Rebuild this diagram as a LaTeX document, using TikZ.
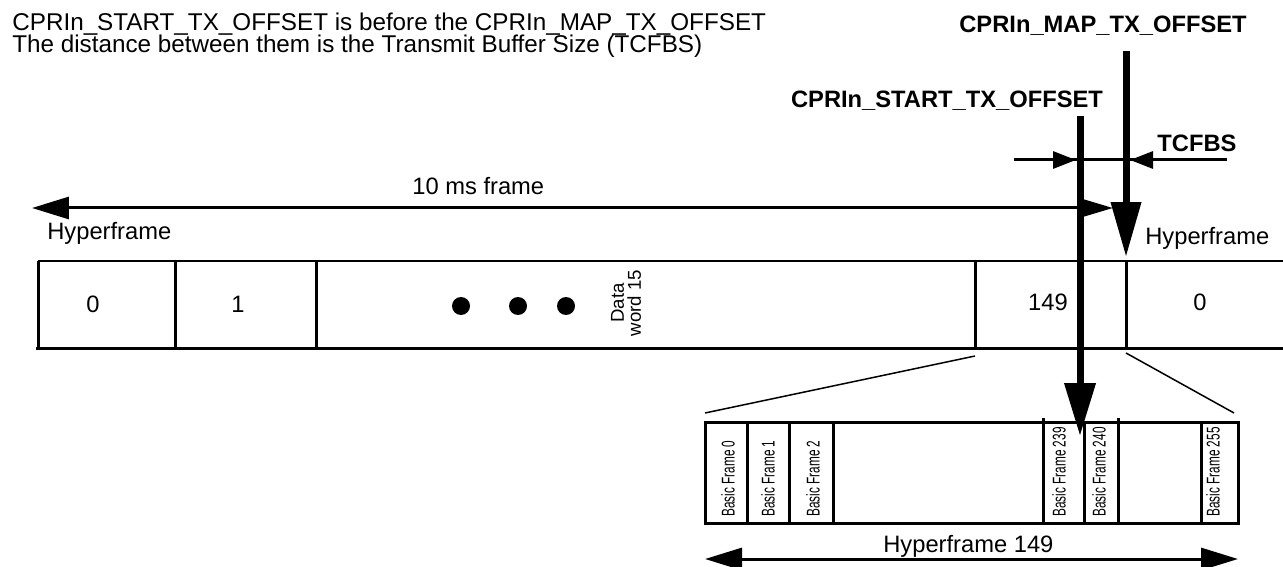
\documentclass[tikz,border=0pt]{standalone}
\usepackage{fontspec}
\setmainfont{Liberation Sans}
\newfontfamily\narrowfont[FakeStretch=0.64]{Liberation Sans}
\usepackage{tikz}
\usetikzlibrary{arrows.meta}
\tikzset{
  rowline/.style={line width=0.06cm},
  zoomline/.style={line width=0.03cm},
  offsetline/.style={line width=0.14cm},
  lbl/.style={inner sep=0pt, font=\fontsize{13.5}{16}\selectfont},
  notelbl/.style={inner sep=0pt, anchor=base west, font=\fontsize{13.8}{16}\selectfont},
  boldlbl/.style={inner sep=0pt, font=\fontsize{13.5}{16}\selectfont\bfseries},
  bflbl/.style={inner sep=0pt, rotate=90, anchor=west, font=\narrowfont\fontsize{10.5}{11}\selectfont},
  bigtip/.tip={Triangle[length=0.74cm, width=0.44cm]},
  smalltip/.tip={Triangle[length=0.46cm, width=0.34cm]},
}

\begin{document}
\begin{tikzpicture}[x=0.02cm, y=-0.02cm]
  \useasboundingbox (0,0) rectangle (1283,567);
  % text at the top
  \node[notelbl] (note1) at (12,31) {CPRIn\_START\_TX\_OFFSET is before the CPRIn\_MAP\_TX\_OFFSET};
  \node[notelbl] (note2) at (12,53) {The distance between them is the Transmit Buffer Size (TCFBS)};
  % offset labels
  \node[boldlbl, anchor=base] (maplbl) at (1103,33) {CPRIn\_MAP\_TX\_OFFSET};
  \node[boldlbl, anchor=base] (startlbl) at (947,108) {CPRIn\_START\_TX\_OFFSET};
  \node[boldlbl, anchor=base] (tcfbs) at (1197,152) {TCFBS};
  % hyperframe row
  \def\rtop{261} \def\rbot{348}
  \draw[rowline] (38,\rtop) -- (1283,\rtop);
  \draw[rowline] (36,\rbot) -- (1283,\rbot);
  \foreach \x in {38,175,316,975,1126}
    \draw[rowline] (\x,\rtop) -- (\x,\rbot);
  \node[lbl, anchor=base] (hf0) at (93,312) {0};
  \node[lbl, anchor=base] (hf1) at (238,312) {1};
  \foreach \x [count=\i] in {461,518,566}
    \fill (\x,306) circle (0.18cm) coordinate (dot\i);
  \node[inner sep=0pt, rotate=90, align=center, font=\fontsize{10.6}{9.7}\selectfont] (dataword) at (626,303) {Data\\word 15};
  \node[lbl, anchor=base] (hf149) at (1048,310) {149};
  \node[lbl, anchor=base] (hfnext) at (1200,310) {0};
  \node[lbl, anchor=base west] (hflblL) at (47,240) {Hyperframe};
  \node[lbl, anchor=base west] (hflblR) at (1145,245) {Hyperframe};
  % 10 ms frame
  \coordinate (tenL) at (32,208);
  \coordinate (tenR) at (1113,208);
  \draw[rowline, bigtip-{Triangle[length=0.6cm, width=0.34cm]}] (tenL) -- (tenR);
  \node[lbl, anchor=base west] (tenms) at (412,195) {10 ms frame};
  % zoom lines
  \coordinate (zL1) at (975,356); \coordinate (zL2) at (705,413);
  \coordinate (zR1) at (1126,353); \coordinate (zR2) at (1234,413);
  \draw[zoomline] (zL1) -- (zL2);
  \draw[zoomline] (zR1) -- (zR2);
  % basic frames
  \draw[rowline] (705,422) rectangle (1238,523);
  \foreach \x in {747,789,833,1084,1201}
    \draw[rowline] (\x,422) -- (\x,523);
  \foreach \x in {1043,1118}
    \draw[rowline] (\x,418) -- (\x,523);
  \foreach \x/\n in {728/0,768/1,813/2,1059/239,1099/240,1213/255}
    \node[bflbl] (bf\n) at (\x,517) {Basic Frame \n};
  % hyperframe 149
  \coordinate (hbL) at (705,559);
  \coordinate (hbR) at (1238,559);
  \draw[rowline, bigtip-bigtip] (hbL) -- (hbR);
  \node[lbl, anchor=base west] (hf149lbl) at (883,552) {Hyperframe 149};
  % TCFBS
  \coordinate (tcL) at (1014,160);
  \coordinate (tcR) at (1227,160);
  \draw[rowline] (tcL) -- (tcR);
  \draw[rowline, -smalltip] (tcL) -- (1076,160);
  \draw[rowline, -smalltip] (tcR) -- (1130,160);
  % offset arrows
  \coordinate (startTop) at (1080,116);
  \coordinate (startTip) at (1080,436);
  \draw[offsetline, -{Triangle[length=1.06cm, width=0.6cm]}] (startTop) -- (startTip);
  \coordinate (mapTop) at (1126,51);
  \coordinate (mapTip) at (1126,257);
  \draw[offsetline, -{Triangle[length=1.1cm, width=0.58cm]}] (mapTop) -- (mapTip);
\end{tikzpicture}
\end{document}
